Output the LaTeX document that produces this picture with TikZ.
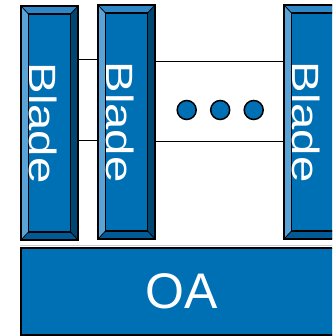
\documentclass[tikz,border=0pt]{standalone}
\usepackage{fontspec}
\setmainfont{Liberation Sans}
\usetikzlibrary{positioning}

\definecolor{oablue}{HTML}{0070B5}
\definecolor{bevtop}{HTML}{2E88C8}
\definecolor{bevleft}{HTML}{5AA3D6}
\definecolor{bevright}{HTML}{004673}
\definecolor{bevbot}{HTML}{005A96}

\newcommand\bladebevel{%
	\coordinate (A) at (path picture bounding box.north west);
	\coordinate (B) at (path picture bounding box.north east);
	\coordinate (C) at (path picture bounding box.south east);
	\coordinate (D) at (path picture bounding box.south west);
	\coordinate (a) at ([shift={(7.5pt,-8pt)}]A);
	\coordinate (b) at ([shift={(-7.5pt,-8pt)}]B);
	\coordinate (c) at ([shift={(-7.5pt,8pt)}]C);
	\coordinate (d) at ([shift={(7.5pt,8pt)}]D);
	\fill[bevtop] (A) -- (B) -- (b) -- (a) -- cycle;
	\fill[bevright] (B) -- (C) -- (c) -- (b) -- cycle;
	\fill[bevbot] (C) -- (D) -- (d) -- (c) -- cycle;
	\fill[bevleft] (D) -- (A) -- (a) -- (d) -- cycle;
	\draw[line width=1.2pt] (a) -- (b) -- (c) -- (d) -- cycle;
	\draw[line width=0.8pt] (A) -- (a) (B) -- (b) (C) -- (c) (D) -- (d);
}
\newcommand\bladetext{\rotatebox{-90}{\scalebox{1.245}[1]{Blade}}}

\tikzset{
	blade/.style={draw=black, line width=1.5pt, fill=oablue, inner sep=0pt,
		minimum width=57pt, minimum height=234pt, path picture={\bladebevel},
		label={[text=white, font=\fontsize{38}{38}\selectfont, xshift=-6pt]center:\bladetext}},
	board/.style={draw=black, line width=1.5pt, fill=oablue, inner sep=0pt,
		minimum width=322pt, minimum height=87pt, text=white, font=\fontsize{50}{50}\selectfont},
	dot/.style={circle, draw=black, line width=1.5pt, fill=oablue, minimum size=19pt, inner sep=0pt},
	link/.style={draw=black, line width=1pt},
}

\begin{document}
\begin{tikzpicture}[x=1pt,y=-1pt]
		\useasboundingbox (0,0) rectangle (332,336);
		\clip (0,0) rectangle (332,336);
		\node[blade] (b1) at (49.5,123) {};
		\node[blade] (b2) at (126.5,122) {};
		\node[blade] (b3) at (312.5,122) {};
		\node[board] (oa) at (182,291.5) {OA};
		\draw[gray!40, line width=1pt] ([yshift=1.5pt]oa.north west) -- ([yshift=1.5pt]oa.north east);
		\draw[link] (b1.east |- 0,60) -- (b2.west |- 0,60);
		\draw[link] (b1.east |- 0,141) -- (b2.west |- 0,141);
		\draw[link] (b2.east |- 0,62) -- (b3.west |- 0,62);
		\draw[link] (b2.east |- 0,142) -- (b3.west |- 0,142);
		\node[dot] (d1) at (186.7,110) {};
		\node[dot, right=13pt of d1] (d2) {};
		\node[dot, right=13pt of d2] (d3) {};
	\end{tikzpicture}
\end{document}
